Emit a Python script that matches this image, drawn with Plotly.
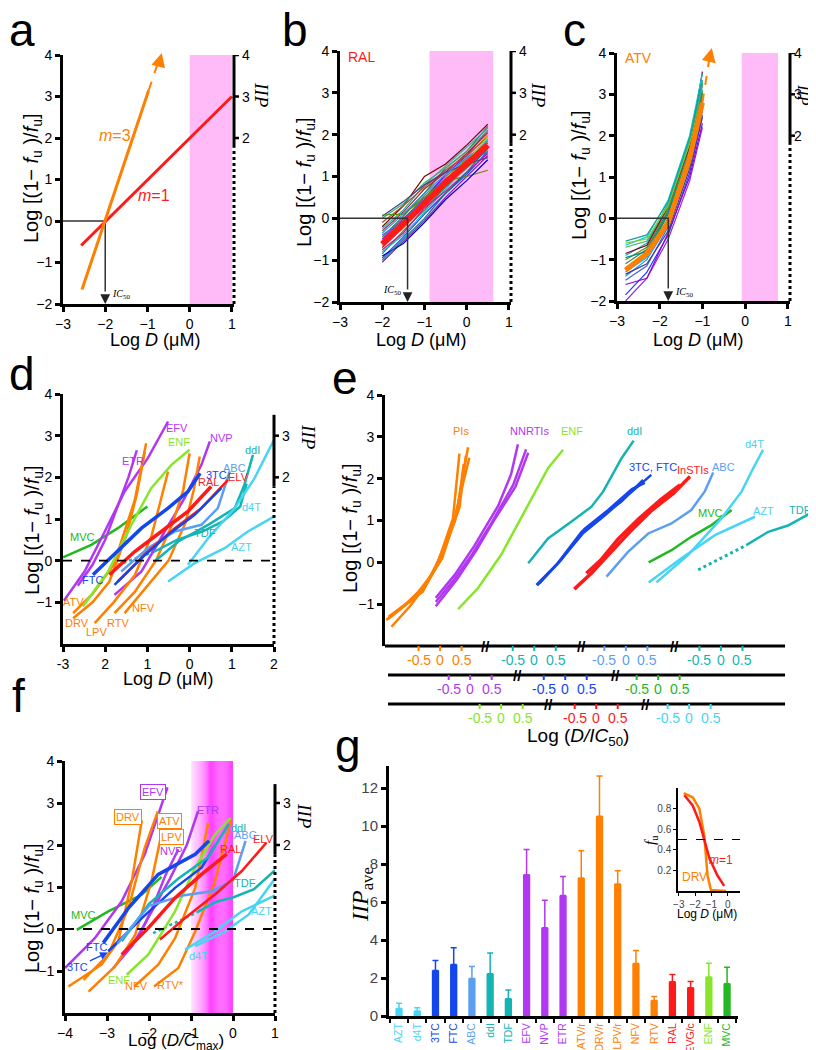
import plotly.graph_objects as go

W, H = 816, 1050
SANS = "Liberation Sans, Arial, sans-serif"
SERIF = "Liberation Serif, Times New Roman, serif"

ORANGE = '#FF8000'
RED = '#FF1A1A'
PURPLE = '#B237F2'
BLUE = '#1446EE'
LBLUE = '#5C9FF2'
TEAL = '#14B4B4'
CYAN = '#48D4F4'
LGREEN = '#88E62A'
GREEN = '#22B822'
PINK = '#FFBBF8'

# ---------------- data ----------------
# panel a
A_M1_X = [-2.57, 1.0]
A_M1_Y = [-0.59, 3.0]
A_M3_X = [-2.55, -0.97]
A_M3_Y = [-1.65, 3.15]
A_M3_EXT_X = [-0.97, -0.74]
A_M3_EXT_Y = [3.15, 3.85]
A_IC50 = -2.0
A_PINK = [0.0, 1.0]

# panel b (RAL, individual patients + mean)
B_X = [-2.0, -1.5, -1.0, -0.5, 0.0, 0.5]
B_Y = [
    [-1.05, -0.55, -0.05, 0.50, 1.00, 1.50],
    [-0.95, -0.45, 0.10, 0.60, 1.05, 1.60],
    [-0.85, -0.30, 0.20, 0.75, 1.20, 1.65],
    [-0.80, -0.40, 0.15, 0.70, 1.25, 1.90],
    [-0.70, -0.20, 0.35, 0.85, 1.35, 1.80],
    [-0.65, -0.10, 0.40, 0.90, 1.45, 2.00],
    [-0.55, -0.05, 0.55, 1.00, 1.40, 1.85],
    [-0.50, 0.00, 0.45, 1.05, 1.50, 2.10],
    [-0.45, 0.05, 0.60, 1.20, 1.60, 2.20],
    [-0.40, -0.05, 0.50, 0.95, 1.30, 1.60],
    [-0.30, 0.15, 0.70, 1.10, 1.55, 2.05],
    [-0.25, 0.20, 0.80, 1.25, 1.70, 2.15],
    [-0.20, 0.30, 1.00, 1.30, 1.75, 2.25],
    [-0.10, 0.30, 0.75, 1.15, 1.50, 1.95],
    [0.00, 0.35, 0.85, 1.20, 1.60, 2.10],
    [0.05, 0.40, 0.80, 1.10, 1.30, 1.45],
    [0.08, 0.10, 0.50, 0.90, 1.00, 1.15],
    [-0.90, -0.60, -0.10, 0.45, 0.90, 1.40],
    [-0.75, -0.35, 0.25, 0.65, 1.10, 1.55],
    [-1.00, -0.50, 0.00, 0.60, 1.10, 1.70],
    [-0.35, 0.10, 0.60, 1.05, 1.45, 1.80],
    [-0.60, -0.25, 0.30, 0.80, 1.35, 1.95],
]
B_MEAN = [-0.62, -0.15, 0.35, 0.85, 1.30, 1.75]
B_IC50 = -1.4
B_PINK = [-0.88, 0.63]

# panel c (ATV)
C_X = [-2.8, -2.3, -1.8, -1.3, -1.0]
C_Y = [
    [-2.00, -1.45, -0.50, 0.90, 2.20],
    [-1.85, -1.30, -0.40, 1.10, 2.45],
    [-1.60, -1.45, -0.35, 1.00, 2.30],
    [-1.50, -1.15, -0.20, 1.30, 2.60],
    [-1.40, -1.00, -0.15, 1.40, 2.75],
    [-1.30, -0.95, -0.05, 1.55, 2.90],
    [-1.20, -0.85, 0.10, 1.60, 3.00],
    [-1.10, -0.75, 0.20, 1.70, 3.10],
    [-1.00, -0.70, 0.25, 1.80, 3.25],
    [-0.90, -0.60, 0.35, 1.85, 3.30],
    [-0.85, -0.65, 0.30, 1.75, 3.55],
    [-0.70, -0.55, 0.35, 1.90, 3.20],
    [-0.65, -0.45, 0.45, 2.00, 3.50],
    [-0.60, -0.50, 0.30, 1.80, 3.00],
    [-0.55, -0.40, 0.40, 1.95, 3.35],
    [-1.35, -1.10, -0.30, 1.20, 2.50],
    [-1.25, -0.90, 0.00, 1.50, 2.85],
    [-0.95, -0.80, 0.15, 1.60, 3.05],
]
C_MEAN = [-1.25, -0.85, -0.10, 1.45, 2.80]
C_EXT_X = [-1.0, -0.84]
C_EXT_Y = [2.8, 3.85]
C_IC50 = -1.8
C_PINK = [-0.08, 0.77]

# panel d (Log D)
D_NAMES = ['MVC', 'EFV', 'ETR', 'NVP', 'ATV', 'DRV', 'LPV', 'RTV', 'NFV', 'ENF',
           'ddI', 'TDF', 'ABC', 'ELV', 'RAL', '3TC', 'FTC', 'd4T', 'AZT']
D_X = [
    [-3.0, -2.33, -1.7, -1.0],
    [-2.98, -2.49, -2.01, -1.54, -0.99, -0.51],
    [-2.65, -2.3, -2.0, -1.7, -1.45, -1.25],
    [-1.78, -1.14, -0.59, -0.12, 0.28, 0.48],
    [-2.76, -2.3, -1.8, -1.3, -1.03],
    [-2.76, -2.3, -1.9, -1.5, -1.25, -1.06],
    [-2.25, -1.8, -1.3, -0.9, -0.51],
    [-1.78, -1.3, -0.8, -0.4, -0.15, 0.0],
    [-1.54, -1.0, -0.5, -0.1, 0.1, 0.24],
    [-2.53, -1.93, -1.38, -0.91, -0.43, 0.0],
    [-0.83, -0.27, 0.44, 1.07, 1.3, 1.5],
    [-0.83, -0.3, 0.3, 0.8, 1.2, 1.35],
    [-1.62, -0.99, -0.35, 0.28, 0.67, 0.95],
    [-1.7, -0.99, -0.35, 0.28, 0.91],
    [-1.9, -1.3, -0.67, -0.04, 0.51],
    [-1.78, -1.14, -0.51, 0.12, 0.75],
    [-2.29, -1.7, -1.14, -0.51, -0.04, 0.25],
    [-0.04, 0.44, 1.07, 1.54, 2.0],
    [-0.51, 0.12, 0.83, 1.38, 2.0],
]
D_Y = [
    [0.08, 0.38, 0.78, 1.3],
    [-0.96, -0.26, 0.7, 1.66, 2.46, 3.34],
    [-0.6, -0.1, 0.5, 1.3, 2.0, 2.65],
    [-0.82, -0.26, 0.7, 1.5, 2.3, 2.86],
    [-1.26, -0.8, -0.1, 1.45, 2.82],
    [-1.38, -1.0, -0.5, 0.6, 1.6, 2.62],
    [-1.5, -1.0, -0.35, 0.6, 2.14],
    [-1.26, -0.75, 0.0, 0.9, 1.7, 2.58],
    [-1.26, -0.6, 0.0, 0.9, 1.7, 2.5],
    [-1.1, -0.26, 0.86, 1.74, 2.3, 2.66],
    [-0.02, 0.46, 0.86, 1.26, 1.82, 2.54],
    [0.22, 0.5, 0.7, 0.95, 1.3, 1.85],
    [-0.26, 0.3, 0.7, 0.86, 1.26, 2.14],
    [-0.5, 0.22, 0.78, 1.26, 1.94],
    [-0.34, 0.22, 0.7, 1.18, 1.78],
    [-0.58, 0.06, 0.62, 1.1, 1.74],
    [-0.34, 0.22, 0.78, 1.26, 1.66, 2.1],
    [-0.1, 0.54, 1.26, 1.98, 2.9],
    [-0.5, -0.06, 0.3, 0.7, 1.06],
]
D_TDF_DOT_X = [-1.7, -0.83]
D_TDF_DOT_Y = [-0.1, 0.22]

# panel e (Log D/IC50, per class)
E_NAMES = ['PI1', 'PI2', 'PI3', 'PI4', 'PI5', 'NN1', 'NN2', 'NN3', 'ENF', 'ddI',
           'NR1', 'NR2', 'NR3', 'IN1', 'IN2', 'ABC', 'MVC', 'd4T', 'AZT', 'TDF']
E_GROUP = ['PI', 'PI', 'PI', 'PI', 'PI', 'NNRTI', 'NNRTI', 'NNRTI', 'ENF', 'ddI',
           'NRTI', 'NRTI', 'NRTI', 'InSTI', 'InSTI', 'ABC', 'MVC', 'd4T', 'd4T', 'TDF']
E_X = [
    [-1.25, -0.8, -0.35, -0.05, 0.3, 0.45],
    [-1.13, -0.7, -0.3, 0.0, 0.35, 0.65],
    [-1.2, -0.75, -0.4, -0.1, 0.3, 0.68],
    [-1.05, -0.6, -0.25, 0.05, 0.4, 0.55],
    [-1.2, -0.65, -0.2, 0.1, 0.45, 0.6],
    [-0.8, -0.36, 0.1, 0.65, 0.95, 1.11],
    [-0.8, -0.4, 0.05, 0.5, 1.0, 1.3],
    [-0.8, -0.3, 0.15, 0.55, 1.05, 1.35],
    [-1.0, -0.54, 0.0, 0.63, 1.09, 1.44],
    [-0.14, 0.32, 0.86, 1.33, 1.6, 2.03, 2.31],
    [-0.67, -0.2, 0.38, 0.9, 1.3, 1.81],
    [-0.6, -0.15, 0.42, 0.95, 1.45, 2.0],
    [-0.65, -0.1, 0.45, 1.0, 1.55, 1.85],
    [-0.51, -0.1, 0.3, 0.8, 1.3, 1.8, 2.18],
    [-0.23, 0.1, 0.5, 1.0, 1.5, 1.95],
    [-0.45, 0.05, 0.52, 1.06, 1.52, 1.83, 2.03],
    [-0.22, 0.31, 0.77, 1.24, 1.71],
    [-0.76, -0.02, 0.75, 1.22, 1.49, 1.72],
    [-0.94, -0.18, 0.6, 1.53],
    [0.59, 1.1, 1.56, 2.07],
]
E_Y = [
    [-1.38, -1.0, -0.55, 0.0, 1.05, 2.6],
    [-1.54, -1.05, -0.5, 0.05, 1.0, 2.75],
    [-1.3, -0.95, -0.7, -0.1, 0.9, 2.5],
    [-1.2, -0.85, -0.4, 0.1, 1.2, 2.35],
    [-1.35, -0.9, -0.3, 0.35, 1.3, 2.55],
    [-0.85, -0.3, 0.4, 1.35, 2.1, 2.82],
    [-0.95, -0.45, 0.2, 0.95, 1.85, 2.7],
    [-1.05, -0.4, 0.3, 1.0, 1.8, 2.62],
    [-1.12, -0.62, 0.18, 1.37, 2.25, 2.69],
    [-0.02, 0.57, 0.97, 1.33, 1.69, 2.49, 2.91],
    [-0.54, -0.05, 0.73, 1.15, 1.45, 1.97],
    [-0.5, 0.0, 0.7, 1.15, 1.6, 2.09],
    [-0.55, 0.05, 0.8, 1.25, 1.75, 1.9],
    [-0.64, -0.25, 0.2, 0.75, 1.25, 1.65, 2.05],
    [-0.26, 0.05, 0.55, 1.05, 1.5, 1.85],
    [-0.34, 0.25, 0.69, 0.93, 1.25, 1.69, 2.15],
    [0.0, 0.29, 0.61, 0.89, 1.25],
    [-0.48, 0.18, 1.05, 1.69, 2.25, 2.69],
    [-0.48, 0.1, 0.65, 1.09],
    [0.41, 0.73, 0.88, 1.17],
]
E_TDF_DOT_X = [-0.53, 0.59]
E_TDF_DOT_Y = [-0.18, 0.41]
E_ORIGIN = {'PI': 1.28, 'ddI': 3.47, 'ABC': 5.60, 'TDF': 7.81,
            'NNRTI': 1.98, 'NRTI': 4.19, 'MVC': 6.35,
            'ENF': 2.70, 'InSTI': 4.91, 'd4T': 7.07}
E_ROWS = [['PI', 'ddI', 'ABC', 'TDF'], ['NNRTI', 'NRTI', 'MVC'], ['ENF', 'InSTI', 'd4T']]
E_BREAKS = [[2.33, 4.56, 6.74], [3.09, 5.35], [3.81, 6.05]]
E_TICKS = [-0.5, 0.0, 0.5]
E_TICKTEXT = ['-0.5', '0', '0.5']

# panel f (Log D/Cmax)
F_NAMES = ['MVC', 'EFV', 'ETR', 'NVP', 'DRV', 'ATV', 'LPV', 'NFV', 'RTV', 'ENF',
           'FTC', '3TC', 'ddI', 'ABC', 'TDF', 'RAL', 'ELV', 'd4T', 'AZT']
F_X = [
    [-3.72, -2.97, -2.17, -1.7],
    [-4.0, -3.29, -2.65, -2.1, -1.56],
    [-2.85, -2.4, -2.0, -1.5, -1.1, -0.83],
    [-2.6, -2.2, -1.9, -1.6, -1.3],
    [-3.92, -3.13, -2.73, -2.41, -2.17],
    [-3.56, -2.97, -2.49, -2.1, -1.79],
    [-3.44, -2.81, -2.33, -1.94, -1.68],
    [-2.35, -1.78, -1.38, -0.9, -0.59],
    [-1.88, -1.3, -0.9, -0.43, -0.2, -0.05],
    [-2.53, -2.02, -1.38, -0.9, -0.43, -0.06],
    [-3.09, -2.49, -1.78, -0.9, -0.57],
    [-2.97, -2.17, -1.38, -0.75, -0.43],
    [-2.65, -2.0, -1.3, -0.6, -0.1],
    [-2.75, -2.0, -1.2, -0.5, 0.0, 0.15, 0.3],
    [-0.85, -0.4, 0.0, 0.5, 1.0],
    [-2.65, -2.02, -1.38, -0.75, -0.15],
    [-1.74, -1.14, -0.43, 0.21, 0.8],
    [-0.9, -0.19, 0.37, 1.0],
    [-1.14, -0.43, 0.21, 1.0],
]
F_Y = [
    [-0.02, 0.42, 0.82, 1.24],
    [-0.93, -0.22, 0.66, 1.78, 3.37],
    [-0.93, -0.4, 0.3, 1.2, 2.0, 2.81],
    [-0.6, -0.1, 0.55, 1.3, 1.9],
    [-1.37, -0.85, -0.29, 1.14, 2.59],
    [-1.21, -0.61, 0.5, 1.94, 2.8],
    [-1.49, -0.89, -0.14, 1.14, 2.37],
    [-1.37, -0.85, -0.22, 0.98, 2.53],
    [-1.37, -0.93, -0.06, 1.14, 2.0, 2.6],
    [-1.09, -0.61, 0.42, 1.46, 2.25, 2.64],
    [-0.33, 0.5, 1.3, 1.78, 2.1],
    [-0.53, 0.26, 0.98, 1.46, 1.98],
    [-0.29, 0.6, 1.2, 1.7, 2.5],
    [-0.35, 0.55, 0.8, 0.9, 1.15, 1.6, 2.1],
    [0.4, 0.65, 0.75, 0.95, 1.4],
    [-0.61, 0.02, 0.74, 1.3, 1.78],
    [-0.25, 0.26, 0.82, 1.38, 2.06],
    [-0.41, -0.06, 0.34, 1.2],
    [-0.49, -0.06, 0.42, 0.8],
]
F_TDF_DOT_X = [-1.9, -0.85]
F_TDF_DOT_Y = [-0.1, 0.4]
F_CMAX_BAND = [-1.0, 0.0]

# panel g
G_CATS = ['AZT', 'd4T', '3TC', 'FTC', 'ABC', 'ddI', 'TDF', 'EFV', 'NVP', 'ETR',
          'ATV/r', 'DRV/r', 'LPV/r', 'NFV', 'RTV', 'RAL', 'EVG/c', 'ENF', 'MVC']
G_VALS = [0.40, 0.26, 2.40, 2.71, 1.98, 2.22, 0.91, 7.44, 4.64, 6.34,
          7.27, 10.51, 6.95, 2.77, 0.82, 1.80, 1.49, 2.05, 1.70]
G_ERR_TOP = [0.67, 0.44, 2.92, 3.59, 2.61, 3.31, 1.37, 8.76, 6.09, 7.34,
             8.70, 12.64, 7.65, 3.45, 1.02, 2.19, 1.82, 2.78, 2.57]

# inset of g
IN_DRV_X = [-2.7, -2.15, -1.74, -1.44, -1.24, -1.03, -0.1]
IN_DRV_Y = [0.95, 0.91, 0.80, 0.54, 0.15, 0.01, 0.0]
IN_M1_X = [-2.66, -2.15, -1.74, -1.44, -1.13, -0.63, -0.22]
IN_M1_Y = [0.93, 0.83, 0.67, 0.49, 0.32, 0.15, 0.05]

# ---------------- styles ----------------
DRUG_COLOR = {'MVC': GREEN, 'EFV': PURPLE, 'ETR': PURPLE, 'NVP': PURPLE,
              'ATV': ORANGE, 'DRV': ORANGE, 'LPV': ORANGE, 'RTV': ORANGE, 'NFV': ORANGE,
              'ENF': LGREEN, 'ddI': TEAL, 'TDF': TEAL, 'ABC': LBLUE, 'ELV': RED, 'RAL': RED,
              '3TC': BLUE, 'FTC': BLUE, 'd4T': CYAN, 'AZT': CYAN}
GROUP_COLOR = {'PI': ORANGE, 'ddI': TEAL, 'ABC': LBLUE, 'TDF': TEAL, 'NNRTI': PURPLE,
               'NRTI': BLUE, 'MVC': GREEN, 'ENF': LGREEN, 'InSTI': RED, 'd4T': CYAN}
G_COLORS = [CYAN, CYAN, BLUE, BLUE, LBLUE, TEAL, TEAL, PURPLE, PURPLE, PURPLE,
            ORANGE, ORANGE, ORANGE, ORANGE, ORANGE, RED, RED, LGREEN, GREEN]
B_COLORS = ['#7B1FA2', '#1E3CFF', '#2E8B57', '#00BCD4', '#8B0000', '#FF8C00', '#6B8E23',
            '#9400D3', '#228B22', '#4169E1', '#B22222', '#20B2AA', '#800000', '#A0522D',
            '#3CB371', '#483D8B', '#5C8A00', '#0000CD', '#C71585', '#008080', '#1E90FF', '#9ACD32']
C_COLORS = ['#8A2BE2', '#1E3CFF', '#9400D3', '#4169E1', '#1E90FF', '#00BCD4', '#228B22',
            '#2E8B57', '#6B8E23', '#20B2AA', '#800020', '#3CB371', '#00CED1', '#7CCD32',
            '#18A0A0', '#483D8B', '#B22222', '#008B8B']

fig = go.Figure()


def dom_x(a, b):
    return [a / W, b / W]


def dom_y(top, bottom):
    return [1 - bottom / H, 1 - top / H]


def line(xs, ys, n, color, width=2.5, dash='solid'):
    sfx = '' if n == 1 else str(n)
    fig.add_trace(go.Scatter(x=xs, y=ys, mode='lines', xaxis='x' + sfx, yaxis='y' + sfx,
                             line=dict(color=color, width=width, dash=dash),
                             showlegend=False, hoverinfo='skip'))


shapes = []
ann = []


def refs(n):
    sfx = '' if n == 1 else str(n)
    return 'x' + sfx, 'y' + sfx


def text(n, x, y, s, color, size=11, family=SANS, **kw):
    xr, yr = refs(n)
    d = dict(x=x, y=y, xref=xr, yref=yr, text=s, showarrow=False, xanchor='center', yanchor='middle',
             font=dict(color=color, size=size, family=family))
    d.update(kw)
    ann.append(d)


def ptext(px, py, s, size=15, color='black', family=SANS, angle=0, **kw):
    d = dict(x=px / W, y=1 - py / H, xref='paper', yref='paper', text=s, showarrow=False,
             xanchor='center', yanchor='middle',
             font=dict(color=color, size=size, family=family), textangle=angle)
    d.update(kw)
    ann.append(d)


def iip_axis(n, top, ticks, wpx, lbl_px, shift=6, lsize=19):
    xr, yr = refs(n)
    xd = xr + ' domain'
    shapes.append(dict(type='line', xref=xd, yref=yr, x0=1, x1=1, y0=1.78, y1=top,
                       line=dict(color='black', width=3)))
    shapes.append(dict(type='line', xref=xd, yref=yr, x0=1, x1=1, y0=-2, y1=1.78,
                       line=dict(color='black', width=3, dash='dot')))
    for t in ticks:
        shapes.append(dict(type='line', xref=xd, yref=yr, x0=1, x1=1 + 5 / wpx, y0=t, y1=t,
                           line=dict(color='black', width=2.5)))
        ann.append(dict(x=1, y=t, xref=xd, yref=yr, text=str(t), showarrow=False, xanchor='left',
                        yanchor='middle', xshift=shift, font=dict(size=14, family=SANS, color='black')))
    ptext(lbl_px[0], lbl_px[1], '<i>IIP</i>', size=lsize, family=SERIF, angle=90)


def ic50(n, xv):
    xr, yr = refs(n)
    line([-3, xv, xv], [0, 0, -1.7], n, '#333333', width=1.5)
    ann.append(dict(x=xv, y=-2, ax=xv, ay=-1.75, xref=xr, yref=yr, axref=xr, ayref=yr,
                    showarrow=True, arrowhead=2, arrowsize=1.3, arrowwidth=1.5,
                    arrowcolor='#222222', text=''))


YTITLE = 'Log [(1\u2212 <i>f</i><sub>u</sub> )/<i>f</i><sub>u</sub>]'
XTITLE_D = 'Log <i>D</i> (\u03bcM)'

# ---------- panel a ----------
shapes.append(dict(type='rect', xref='x', yref='y', x0=A_PINK[0], x1=A_PINK[1], y0=-2, y1=4,
                   fillcolor=PINK, line=dict(width=0), layer='below'))
ic50(1, A_IC50)
line(A_M1_X, A_M1_Y, 1, RED, 3)
line(A_M3_X, A_M3_Y, 1, ORANGE, 3)
line(A_M3_EXT_X, A_M3_EXT_Y, 1, ORANGE, 2, 'dash')
ann.append(dict(x=-0.66, y=4.05, ax=-0.72, ay=3.82, xref='x', yref='y', axref='x', ayref='y',
                showarrow=True, arrowhead=2, arrowsize=1.4, arrowwidth=2, arrowcolor=ORANGE, text=''))
text(1, -1.77, 2.07, '<i>m</i>=3', ORANGE, 16)
text(1, -0.85, 0.62, '<i>m</i>=1', RED, 16)
text(1, -1.62, -1.78, '<i>IC</i><sub>50</sub>', 'black', 10, SERIF)
iip_axis(1, 4, [4, 3, 2], 171, (254, 87))

# ---------- panel b ----------
shapes.append(dict(type='rect', xref='x2', yref='y2', x0=B_PINK[0], x1=B_PINK[1], y0=-2, y1=4,
                   fillcolor=PINK, line=dict(width=0), layer='below'))
for i, ys in enumerate(B_Y):
    line(B_X, ys, 2, B_COLORS[i % len(B_COLORS)], 1.2)
line(B_X, B_MEAN, 2, RED, 6)
ic50(2, B_IC50)
text(2, -1.75, -1.72, '<i>IC</i><sub>50</sub>', 'black', 10, SERIF)
text(2, -2.5, 3.85, 'RAL', RED, 14)
iip_axis(2, 4, [4, 3, 2], 171, (531, 87))

# ---------- panel c ----------
shapes.append(dict(type='rect', xref='x3', yref='y3', x0=C_PINK[0], x1=C_PINK[1], y0=-2, y1=4,
                   fillcolor=PINK, line=dict(width=0), layer='below'))
for i, ys in enumerate(C_Y):
    line(C_X, ys, 3, C_COLORS[i % len(C_COLORS)], 1.2)
line(C_X, C_MEAN, 3, ORANGE, 5)
line(C_EXT_X, C_EXT_Y, 3, ORANGE, 2, 'dash')
ann.append(dict(x=-0.78, y=4.12, ax=-0.84, ay=3.85, xref='x3', yref='y3', axref='x3', ayref='y3',
                showarrow=True, arrowhead=2, arrowsize=1.4, arrowwidth=2, arrowcolor=ORANGE, text=''))
ic50(3, C_IC50)
text(3, -1.42, -1.8, '<i>IC</i><sub>50</sub>', 'black', 10, SERIF)
text(3, -2.5, 3.88, 'ATV', ORANGE, 14)
iip_axis(3, 4, [4, 3, 2], 173, (796, 87), shift=2, lsize=16)

# ---------- panel d ----------
shapes.append(dict(type='line', xref='x4', yref='y4', x0=-3, x1=2, y0=0, y1=0,
                   line=dict(color='black', width=1.8, dash='dash')))
line(D_TDF_DOT_X, D_TDF_DOT_Y, 4, TEAL, 2.5, 'dot')
for name, xs, ys in zip(D_NAMES, D_X, D_Y):
    w = 3.5 if name in ('FTC', 'RAL') else 2.5
    line(xs, ys, 4, DRUG_COLOR[name], w)
D_LABELS = [('EFV', -0.31, 3.18), ('ETR', -1.34, 2.4), ('ENF', -0.24, 2.86), ('NVP', 0.75, 2.94),
            ('ddI', 1.5, 2.66), ('ABC', 1.07, 2.22), ('3TC', 0.63, 2.06), ('RAL', 0.44, 1.9),
            ('ELV', 1.17, 2.0), ('d4T', 1.46, 1.3), ('TDF', 0.36, 0.66), ('MVC', -2.53, 0.58),
            ('AZT', 1.23, 0.34), ('FTC', -2.29, -0.46), ('ATV', -2.76, -0.98), ('DRV', -2.68, -1.5),
            ('LPV', -2.21, -1.7), ('RTV', -1.7, -1.5), ('NFV', -1.1, -1.14)]
for name, lx, ly in D_LABELS:
    text(4, lx, ly, name, DRUG_COLOR[name], 11)
iip_axis(4, 3.5, [3, 2], 211, (301, 429))

# ---------- panel e ----------
line([E_ORIGIN['TDF'] + v for v in E_TDF_DOT_X], E_TDF_DOT_Y, 5, TEAL, 3, 'dot')
for name, grp, xs, ys in zip(E_NAMES, E_GROUP, E_X, E_Y):
    w = 3.5 if grp == 'InSTI' else 2.5
    line([E_ORIGIN[grp] + v for v in xs], ys, 5, GROUP_COLOR[grp], w)
E_LABELS = [('PIs', 1.77, 3.14, ORANGE), ('NNRTIs', 3.37, 3.14, PURPLE), ('ENF', 4.35, 3.14, LGREEN),
            ('ddI', 5.79, 3.14, TEAL), ('3TC, FTC', 6.23, 2.28, BLUE), ('InSTIs', 7.16, 2.2, RED),
            ('ABC', 7.88, 2.28, LBLUE), ('d4T', 8.6, 2.83, CYAN), ('MVC', 7.56, 1.17, GREEN),
            ('AZT', 8.81, 1.22, CYAN), ('TDF', 9.65, 1.25, TEAL)]
for s, lx, ly, col in E_LABELS:
    text(5, lx, ly, s, col, 11)
ROW_PX = [638, 667, 696]
ROW_START = [0.0, 0.07, 0.07]
for r, groups in enumerate(E_ROWS):
    yl = 1 - ROW_PX[r] / H
    shapes.append(dict(type='line', xref='x5', yref='paper', x0=ROW_START[r], x1=9.3, y0=yl, y1=yl,
                       line=dict(color='black', width=3)))
    for g in groups:
        o = E_ORIGIN[g]
        for tv, tt in zip(E_TICKS, E_TICKTEXT):
            shapes.append(dict(type='line', xref='x5', yref='paper', x0=o + tv, x1=o + tv,
                               y0=yl, y1=yl - 5 / H, line=dict(color=GROUP_COLOR[g], width=2)))
            ann.append(dict(x=o + tv, y=yl - 14 / H, xref='x5', yref='paper', text=tt, showarrow=False,
                            xanchor='center', yanchor='middle',
                            font=dict(size=14, family=SANS, color=GROUP_COLOR[g])))
    for b in E_BREAKS[r]:
        ann.append(dict(x=b, y=yl, xref='x5', yref='paper', text='<b>//</b>', showarrow=False,
                        xanchor='center', yanchor='middle',
                        font=dict(size=15, family=SANS, color='black')))
ptext(570, 729, 'Log (<i>D/IC</i><sub>50</sub>)', size=19)

# ---------- panel f ----------
NBAND = 40
for i in range(NBAND):
    t0 = i / NBAND
    s = 0.12 + 0.88 * min(1.0, (t0 + 0.5 / NBAND) / 0.45)
    g = int(round(255 - (255 - 70) * s))
    col = 'rgb(255,%d,255)' % g
    x0 = F_CMAX_BAND[0] + (F_CMAX_BAND[1] - F_CMAX_BAND[0]) * t0
    x1 = F_CMAX_BAND[0] + (F_CMAX_BAND[1] - F_CMAX_BAND[0]) * (i + 1) / NBAND
    shapes.append(dict(type='rect', xref='x6', yref='y6', x0=x0, x1=x1 + 0.002, y0=-2, y1=4,
                       fillcolor=col, line=dict(width=0), layer='below'))
shapes.append(dict(type='line', xref='x6', yref='y6', x0=-4, x1=1, y0=0, y1=0,
                   line=dict(color='black', width=1.8, dash='dash')))
line(F_TDF_DOT_X, F_TDF_DOT_Y, 6, TEAL, 2.5, 'dot')
for name, xs, ys in zip(F_NAMES, F_X, F_Y):
    w = 3.5 if name in ('FTC', 'RAL') else 2.5
    line(xs, ys, 6, DRUG_COLOR[name], w)
F_LABELS = [('NVP', -1.46, 1.86), ('ETR', -0.6, 2.83), ('ddI', 0.13, 2.41), ('ABC', 0.3, 2.25),
            ('ELV', 0.72, 2.14), ('RAL', -0.05, 1.9), ('TDF', 0.29, 1.1), ('AZT', 0.68, 0.42),
            ('d4T', -0.83, -0.65), ('MVC', -3.56, 0.34), ('FTC', -3.25, -0.43), ('ENF', -2.71, -1.21),
            ('NFV', -2.29, -1.35), ('RTV*', -1.5, -1.33)]
for name, lx, ly in F_LABELS:
    text(6, lx, ly, name, DRUG_COLOR[name.rstrip('*')], 11)
F_BOXED = [('EFV', -1.9, 3.27), ('DRV', -2.49, 2.67), ('ATV', -1.52, 2.56), ('LPV', -1.46, 2.19)]
for name, lx, ly in F_BOXED:
    text(6, lx, ly, name, DRUG_COLOR[name], 11, bordercolor=DRUG_COLOR[name], borderwidth=1,
         bgcolor='white', borderpad=1)
ann.append(dict(x=-2.98, y=-0.56, ax=-30, ay=14, xref='x6', yref='y6', text='3TC', showarrow=True,
                arrowhead=2, arrowsize=1.2, arrowwidth=1.3, arrowcolor=BLUE,
                font=dict(color=BLUE, size=11, family=SANS)))
iip_axis(6, 3.45, [3, 2], 210, (297, 808))
ptext(168, 1034, 'Log (<i>D/C</i><sub>max</sub>)', size=17)

# ---------- panel g ----------
for c, v, e, col in zip(G_CATS, G_VALS, G_ERR_TOP, G_COLORS):
    fig.add_trace(go.Bar(x=[c], y=[v], xaxis='x7', yaxis='y7', marker=dict(color=col, line=dict(width=0)),
                         width=0.4, showlegend=False, hoverinfo='skip',
                         error_y=dict(type='data', symmetric=False, array=[e - v], arrayminus=[0],
                                      color=col, thickness=1.5, width=3)))
G_TICKTEXT = ['<span style="color:%s">%s</span>' % (col, c) for c, col in zip(G_CATS, G_COLORS)]
ptext(354, 887, '<i>IIP</i><sub>ave</sub>', size=24, family=SERIF, angle=-90)

# inset
shapes.append(dict(type='line', xref='x8', yref='y8', x0=-3.05, x1=0.75, y0=0.5, y1=0.5,
                   line=dict(color='black', width=1.2, dash='dash')))
line(IN_DRV_X, IN_DRV_Y, 8, ORANGE, 2.5)
line(IN_M1_X, IN_M1_Y, 8, RED, 2.5)
text(8, -0.42, 0.3, '<i>m</i>=1', RED, 12)
text(8, -2.05, 0.14, 'DRV', ORANGE, 12)
ptext(643, 832, '<i>f</i><sub>u</sub>', size=15, family=SERIF, angle=-90)
ptext(699, 906, 'Log <i>D</i> (\u03bcM)', size=12)

# ---------- axis titles & panel labels ----------
for (px, py) in [(25, 170), (297, 174), (572, 167), (25, 522), (343, 520), (25, 900)]:
    ptext(px, py, YTITLE, size=20, angle=-90)
for (px, py) in [(147, 332), (413, 332), (690, 332), (160, 671)]:
    ptext(px, py, XTITLE_D, size=18)
for s, px, py in [('a', 14, 22), ('b', 287, 22), ('c', 566, 22), ('d', 14, 366),
                  ('e', 337, 370), ('f', 10, 688), ('g', 340, 738)]:
    ptext(px, py, s, size=46)

# ---------- layout ----------
def axis(**kw):
    d = dict(showline=True, linewidth=3, linecolor='black', ticks='outside', tickwidth=2.5, ticklen=5,
             tickcolor='black', showgrid=False, zeroline=False, mirror=False,
             tickfont=dict(family=SANS, size=14, color='black'))
    d.update(kw)
    return d

YT6 = [-2, -1, 0, 1, 2, 3, 4]
YT5 = [-1, 0, 1, 2, 3, 4]
layout = dict(
    width=W, height=H, margin=dict(l=0, r=0, t=0, b=0), template='none',
    paper_bgcolor='white', plot_bgcolor='rgba(0,0,0,0)', showlegend=False, barmode='overlay',
    xaxis=axis(domain=dom_x(55, 226), range=[-3, 1.05], anchor='y', tickvals=[-3, -2, -1, 0, 1]),
    yaxis=axis(domain=dom_y(47, 296), range=[-2, 4], anchor='x', tickvals=YT6),
    xaxis2=axis(domain=dom_x(332, 503), range=[-3, 1.05], anchor='y2', tickvals=[-3, -2, -1, 0, 1]),
    yaxis2=axis(domain=dom_y(43, 294), range=[-2, 4], anchor='x2', tickvals=YT6),
    xaxis3=axis(domain=dom_x(609, 782), range=[-3, 1.05], anchor='y3', tickvals=[-3, -2, -1, 0, 1]),
    yaxis3=axis(domain=dom_y(45, 293), range=[-2, 4], anchor='x3', tickvals=YT6),
    xaxis4=axis(domain=dom_x(55, 266), range=[-3, 2], anchor='y4', tickvals=[-3, -2, -1, 0, 1, 2],
                ticktext=['-3', '2', '1', '0', '1', '2']),
    yaxis4=axis(domain=dom_y(386, 636), range=[-2, 4], anchor='x4', tickvals=YT5),
    xaxis5=dict(domain=dom_x(377, 805), range=[0, 9.95], anchor='y5', visible=False),
    yaxis5=axis(domain=dom_y(387, 638), range=[-2, 4], anchor='x5', tickvals=YT5),
    xaxis6=axis(domain=dom_x(57, 267), range=[-4, 1], anchor='y6', tickvals=[-4, -3, -2, -1, 0, 1]),
    yaxis6=axis(domain=dom_y(753, 1005), range=[-2, 4], anchor='x6', tickvals=YT5),
    xaxis7=axis(domain=dom_x(381, 730), type='category', range=[-0.55, 18.6], anchor='y7',
                categoryorder='array', categoryarray=G_CATS, tickson='boundaries',
                tickvals=G_CATS, ticktext=G_TICKTEXT, tickangle=-90, ticklen=4, tickwidth=2,
                tickfont=dict(family=SANS, size=10.5)),
    yaxis7=axis(domain=dom_y(758, 1008), range=[0, 13.16], anchor='x7', tickvals=[0, 2, 4, 6, 8, 10, 12],
                tickfont=dict(family=SANS, size=15)),
    xaxis8=axis(domain=dom_x(670, 732), range=[-3.05, 0.75], anchor='y8', tickvals=[-3, -2, -1, 0],
                linewidth=1.5, tickwidth=1.2, ticklen=3, tickfont=dict(family=SANS, size=10)),
    yaxis8=axis(domain=dom_y(780, 883), range=[0, 1.0], anchor='x8', tickvals=[0.2, 0.4, 0.6, 0.8],
                linewidth=1.5, tickwidth=1.2, ticklen=3, tickfont=dict(family=SANS, size=10)),
    shapes=shapes, annotations=ann,
)
fig.update_layout(**layout)
fig.write_html("out.html")
